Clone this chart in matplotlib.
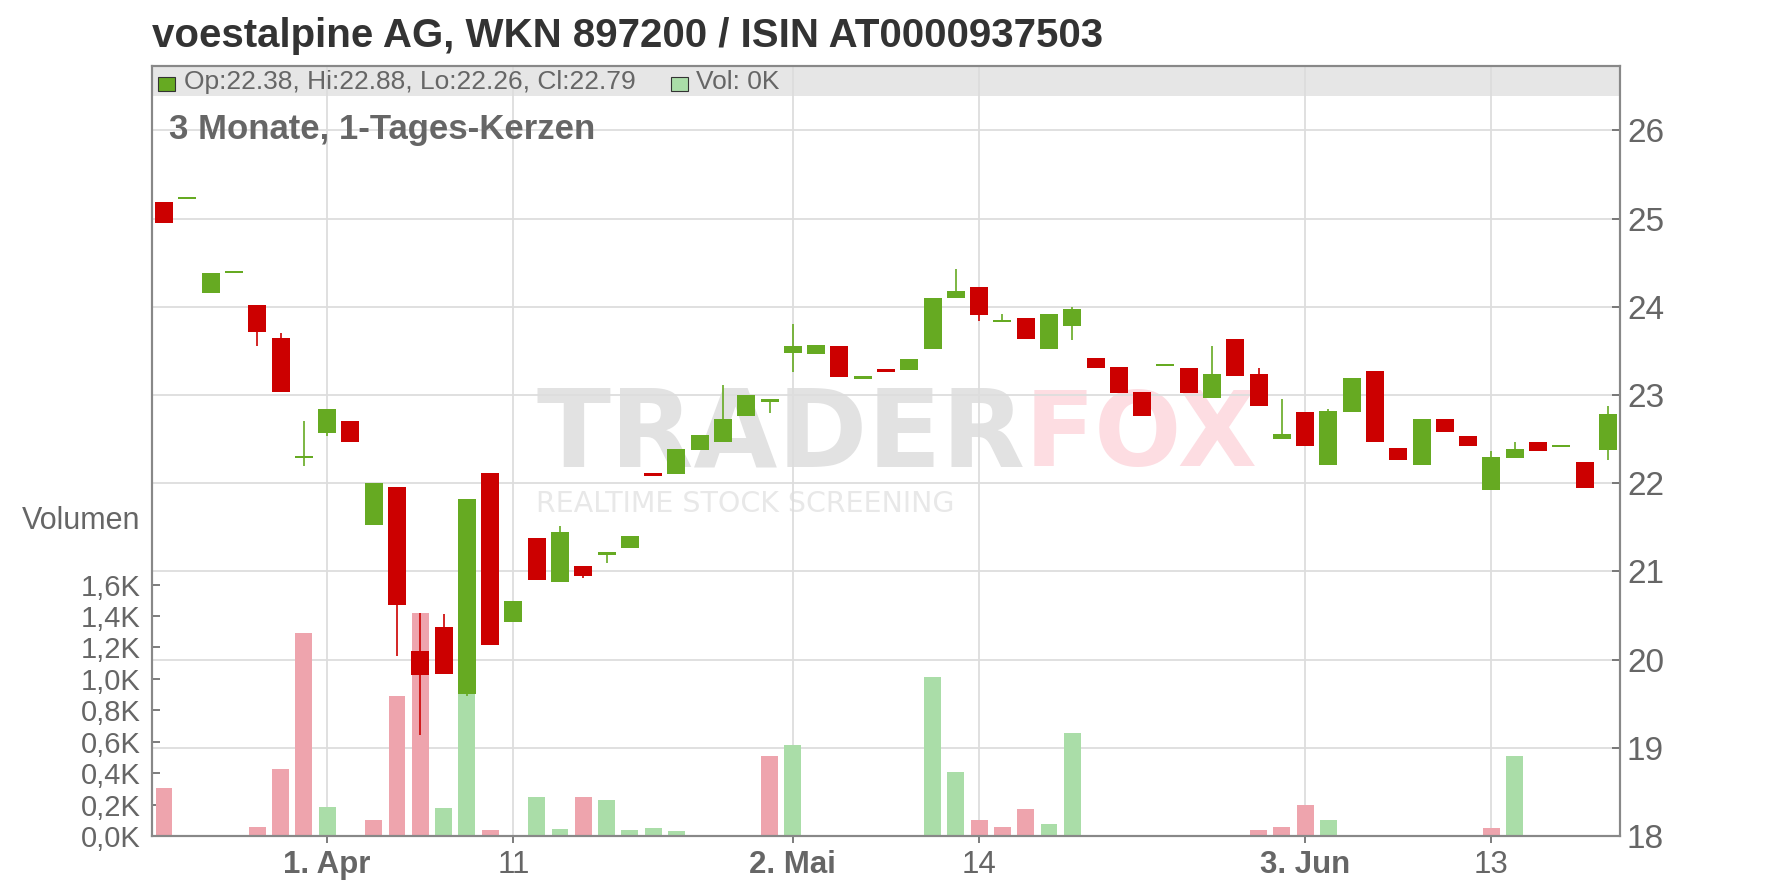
import numpy as np
import pandas as pd
import matplotlib
matplotlib.use('Agg')
import matplotlib.pyplot as plt
from matplotlib.patches import Rectangle
from matplotlib.transforms import blended_transform_factory

plt.rcParams['font.family'] = ['Liberation Sans', 'DejaVu Sans']

# chart texts
title = 'voestalpine AG, WKN 897200 / ISIN AT0000937503'
subtitle = '3 Monate, 1-Tages-Kerzen'
vol_label = 'Volumen'

# trading days (exchange holidays removed)
holidays = ['2019-04-19', '2019-04-22', '2019-05-01']
dates = pd.bdate_range('2019-03-21', '2019-06-20', freq='C', holidays=holidays)

# daily candles
opens = [25.19, 25.23, 24.16, 24.39, 24.02, 23.65, 22.29, 22.57, 22.70, 21.53,
         21.96, 20.10, 20.37, 19.61, 22.11, 20.43, 21.38, 20.88, 21.06, 21.19,
         21.26, 22.11, 22.10, 22.38, 22.47, 22.76, 22.92, 23.48, 23.46, 23.55,
         23.18, 23.29, 23.28, 23.52, 24.10, 24.23, 23.84, 23.87, 23.52, 23.78,
         23.42, 23.32, 23.03, 23.34, 23.31, 22.97, 23.63, 23.24, 22.50, 22.81,
         22.21, 22.81, 23.27, 22.40, 22.21, 22.73, 22.53, 21.92, 22.28, 22.47,
         22.42, 22.24, 22.38]
highs = [25.19, 25.23, 24.38, 24.39, 24.02, 23.70, 22.70, 22.84, 22.70, 22.00,
         21.96, 20.53, 20.52, 21.82, 22.11, 20.67, 21.38, 21.51, 21.06, 21.22,
         21.40, 22.11, 22.39, 22.55, 23.11, 23.00, 22.95, 23.81, 23.57, 23.55,
         23.21, 23.29, 23.41, 24.10, 24.43, 24.23, 23.92, 23.87, 23.92, 24.00,
         23.42, 23.32, 23.03, 23.34, 23.31, 23.55, 23.63, 23.31, 22.95, 22.81,
         22.84, 23.19, 23.27, 22.40, 22.73, 22.73, 22.53, 22.37, 22.47, 22.47,
         22.42, 22.24, 22.88]
lows = [24.95, 25.23, 24.16, 24.39, 23.55, 23.03, 22.20, 22.54, 22.47, 21.53,
        20.04, 19.14, 19.84, 19.59, 20.17, 20.43, 20.90, 20.88, 20.92, 21.10,
        21.26, 22.08, 22.10, 22.38, 22.47, 22.76, 22.80, 23.26, 23.46, 23.20,
        23.18, 23.26, 23.28, 23.52, 24.10, 23.84, 23.84, 23.64, 23.52, 23.62,
        23.31, 23.02, 22.76, 23.34, 23.02, 22.97, 23.22, 22.88, 22.50, 22.42,
        22.21, 22.81, 22.47, 22.26, 22.21, 22.58, 22.42, 21.92, 22.28, 22.36,
        22.42, 21.94, 22.26]
closes = [24.95, 25.23, 24.38, 24.39, 23.71, 23.03, 22.30, 22.84, 22.47, 22.00,
          20.62, 19.83, 19.84, 21.82, 20.17, 20.67, 20.90, 21.45, 20.95, 21.22,
          21.40, 22.08, 22.39, 22.55, 22.73, 23.00, 22.95, 23.55, 23.57, 23.20,
          23.21, 23.26, 23.41, 24.10, 24.18, 23.91, 23.84, 23.64, 23.92, 23.97,
          23.31, 23.02, 22.76, 23.34, 23.02, 23.24, 23.22, 22.88, 22.56, 22.42,
          22.82, 23.19, 22.47, 22.26, 22.73, 22.58, 22.42, 22.30, 22.39, 22.36,
          22.42, 21.94, 22.79]
# volume in thousand
volumes = [0.305, 0, 0, 0, 0.057, 0.426, 1.29, 0.184, 0, 0.10,
           0.89, 1.42, 0.178, 0.92, 0.039, 0, 0.251, 0.045, 0.251, 0.232,
           0.039, 0.052, 0.032, 0, 0.006, 0, 0.51, 0.58, 0, 0,
           0, 0, 0, 1.01, 0.406, 0.103, 0.058, 0.174, 0.077, 0.657,
           0, 0, 0, 0, 0, 0, 0.006, 0.039, 0.058, 0.20,
           0.103, 0, 0, 0, 0, 0, 0, 0.052, 0.51, 0,
           0, 0, 0]
prev_close_start = 25.5

tick_dates = ['2019-04-01', '2019-04-11', '2019-05-02', '2019-05-14', '2019-06-03', '2019-06-13']
tick_labels = ['1. Apr', '11', '2. Mai', '14', '3. Jun', '13']
tick_bold = [True, False, True, False, True, False]
price_ticks = [18, 19, 20, 21, 22, 23, 24, 25, 26]
vol_ticks = [0.0, 0.2, 0.4, 0.6, 0.8, 1.0, 1.2, 1.4, 1.6]

GREEN = '#66aa22'
RED = '#cc0000'
VOL_GREEN = '#aadda8'
VOL_RED = '#eea4ad'
GRID = '#dddddd'
TXT = '#666666'

o = np.array(opens)
h = np.array(highs)
l = np.array(lows)
c = np.array(closes)
x = np.arange(len(dates))

fig = plt.figure(figsize=(17.76, 8.88), dpi=100)
W, H = 1776, 888
ax_vol = fig.add_axes([152 / W, 52 / H, (1620 - 152) / W, (836 - 66) / H])
ax = ax_vol.twinx()
ax_vol.patch.set_visible(False)

ax_vol.set_xlim(-0.52, len(x) - 0.48)
ax.set_ylim(18, 26.73)
ax_vol.set_ylim(0, 4.9)

# watermark
ax_vol.text(1025 / W, 1 - 466 / H, 'TRADER', transform=fig.transFigure, ha='right', va='baseline',
            fontsize=78, fontweight='bold', family='DejaVu Sans', color='#e2e2e2', zorder=0.1)
ax_vol.text(1025 / W, 1 - 466 / H, 'FOX', transform=fig.transFigure, ha='left', va='baseline',
            fontsize=74, fontweight='bold', family='DejaVu Sans', color='#fddde2', zorder=0.1)
ax_vol.text(536 / W, 1 - 504 / H, 'REALTIME STOCK SCREENING', transform=fig.transFigure,
            ha='left', va='center', fontsize=20.5, family='DejaVu Sans', color='#e8e8e8', zorder=0.1)

# legend bar at the top of the plot
bar_h = 30 / 770
ax_vol.add_patch(Rectangle((0, 1 - bar_h), 1, bar_h, transform=ax_vol.transAxes,
                           facecolor='#e6e6e6', edgecolor='none', zorder=0.3))

# grid: vertical at date ticks, horizontal at price ticks
tick_pos = [dates.get_loc(pd.Timestamp(d)) for d in tick_dates]
ax_vol.set_xticks(tick_pos)
ax_vol.set_xticklabels(tick_labels)
ax_vol.set_axisbelow(True)
ax_vol.grid(axis='x', color=GRID, lw=1.3)
trans = blended_transform_factory(ax_vol.transAxes, ax.transData)
for p in price_ticks:
    ax_vol.plot([0, 1], [p, p], transform=trans, color=GRID, lw=1.3, zorder=0.5)

# volume bars coloured by close vs previous close
prev = np.concatenate([[prev_close_start], c[:-1]])
vol_colors = [VOL_GREEN if cc >= pc else VOL_RED for cc, pc in zip(c, prev)]
ax_vol.bar(x, volumes, width=0.72, color=vol_colors, zorder=1)

# candles
colors = [GREEN if cc >= oo else RED for oo, cc in zip(o, c)]
body = np.abs(c - o)
body_h = np.maximum(body, 0.025)
body_lo = np.minimum(o, c) - (body_h - body) / 2
ax.vlines(x, l, h, colors=colors, lw=1.2, zorder=2)
ax.bar(x, body_h, bottom=body_lo, width=0.77, color=colors, zorder=3)

# axes styling
ax.set_yticks(price_ticks)
ax.set_yticklabels([str(p) for p in price_ticks])
ax_vol.set_yticks(vol_ticks)
ax_vol.set_yticklabels([f'{v:.1f}K'.replace('.', ',') for v in vol_ticks])
for a in (ax, ax_vol):
    for s in a.spines.values():
        s.set_color('#888888')
        s.set_linewidth(1.5)
ax.tick_params(axis='y', direction='in', length=6, width=1.2, color='#666666',
               labelsize=24, labelcolor=TXT, pad=5)
ax_vol.tick_params(axis='y', direction='in', length=6, width=1.2, color='#666666',
                   labelsize=21, labelcolor=TXT, pad=8)
ax_vol.tick_params(axis='x', direction='out', length=5, width=1.2, color='#666666',
                   labelsize=22.5, labelcolor=TXT, pad=5)
for lab, b in zip(ax_vol.get_xticklabels(), tick_bold):
    lab.set_fontweight('bold' if b else 'normal')

# texts
fig.text(152 / W, 1 - 36 / H, title, ha='left', va='center', fontsize=29,
         fontweight='bold', color='#333333')
fig.text(169 / W, 1 - 129 / H, subtitle, ha='left', va='center', fontsize=25,
         fontweight='bold', color=TXT)
fig.text(140 / W, 1 - 521 / H, vol_label, ha='right', va='center', fontsize=22, color=TXT)

# legend content: last candle
leg = f'Op:{opens[-1]:.2f}, Hi:{highs[-1]:.2f}, Lo:{lows[-1]:.2f}, Cl:{closes[-1]:.2f}'
vol_leg = f'Vol: {volumes[-1]:.0f}K'
ax_vol.add_patch(Rectangle((158 / W, 1 - 91 / H), 17 / W, 14 / H, transform=fig.transFigure,
                           facecolor=GREEN, edgecolor='#333333', lw=0.8, zorder=0.6))
ax_vol.add_patch(Rectangle((671 / W, 1 - 91 / H), 17 / W, 14 / H, transform=fig.transFigure,
                           facecolor=VOL_GREEN, edgecolor='#333333', lw=0.8, zorder=0.6))
ax_vol.text(184 / W, 1 - 82 / H, leg, transform=fig.transFigure, ha='left', va='center',
            fontsize=19, color=TXT, zorder=0.6)
ax_vol.text(696 / W, 1 - 82 / H, vol_leg, transform=fig.transFigure, ha='left', va='center',
            fontsize=19, color=TXT, zorder=0.6)

fig.savefig('out.png', dpi=100, facecolor='white')
